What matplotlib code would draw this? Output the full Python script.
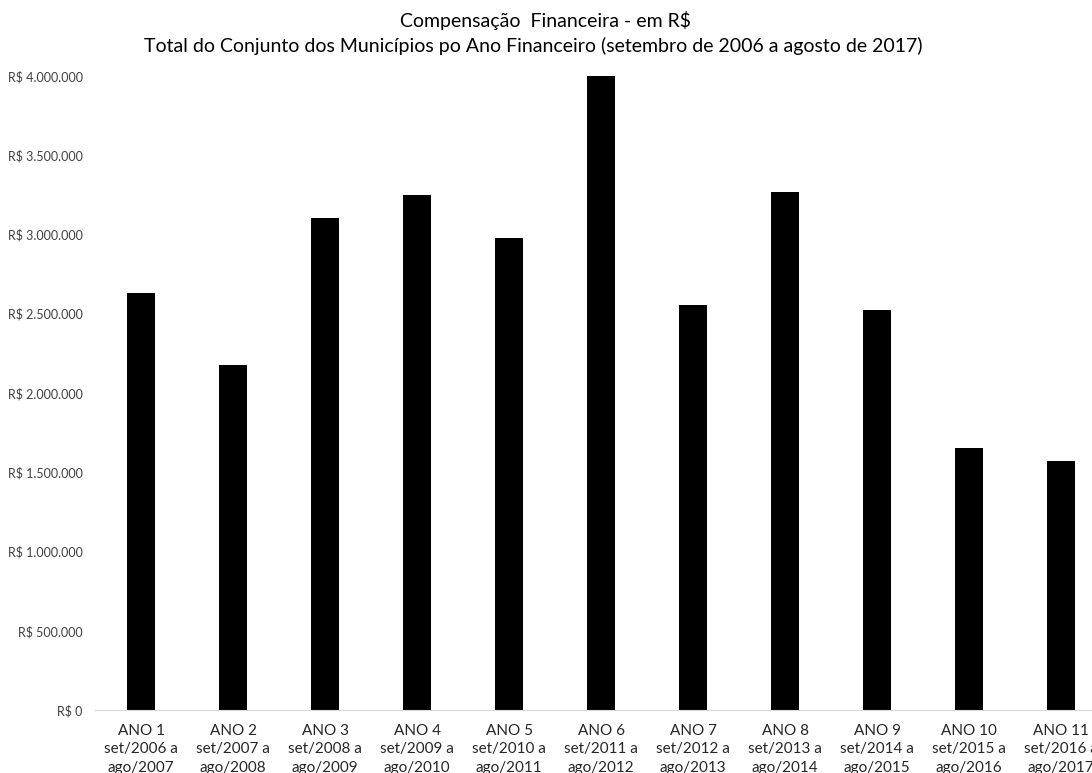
import numpy as np
import matplotlib
matplotlib.use("Agg")
import matplotlib.pyplot as plt
from matplotlib.ticker import FuncFormatter

plt.rcParams['font.family'] = ['Lato', 'DejaVu Sans']

anos = ['ANO 1', 'ANO 2', 'ANO 3', 'ANO 4', 'ANO 5', 'ANO 6',
        'ANO 7', 'ANO 8', 'ANO 9', 'ANO 10', 'ANO 11']
periodos = ['set/2006 a\nago/2007', 'set/2007 a\nago/2008', 'set/2008 a\nago/2009',
            'set/2009 a\nago/2010', 'set/2010 a\nago/2011', 'set/2011 a\nago/2012',
            'set/2012 a\nago/2013', 'set/2013 a\nago/2014', 'set/2014 a\nago/2015',
            'set/2015 a\nago/2016', 'set/2016 a\nago/2017']
valores = [2631000, 2177000, 3104000, 3249000, 2978000, 4000000,
           2555000, 3268000, 2524000, 1653000, 1571000]


def reais(v, pos):
    return 'R$ ' + f'{int(v):,}'.replace(',', '.')


fig = plt.figure(figsize=(10.92, 7.73), dpi=100)
# plot area runs a little past the right edge of the figure
ax = fig.add_axes([95 / 1092, 63 / 773, 1012 / 1092, 634 / 773])

x = np.arange(len(anos))
ax.bar(x, valores, width=0.315, color='black')

ax.set_xlim(-0.5, len(anos) - 0.5)
ax.set_ylim(0, 4000000)
ax.set_yticks(np.arange(0, 4000001, 500000))
ax.yaxis.set_major_formatter(FuncFormatter(reais))
ax.set_xticks(x)
ax.set_xticklabels([f'{a}\n{p}' for a, p in zip(anos, periodos)],
                   fontsize=11, color='#262626', linespacing=1.4)

for s in ['top', 'right', 'left']:
    ax.spines[s].set_visible(False)
ax.spines['bottom'].set_color('#d9d9d9')
ax.tick_params(axis='y', length=0, labelsize=9, labelcolor='#404040', pad=9)
ax.tick_params(axis='x', length=0, pad=10)

fig.text(545 / 1092, 1 - 20 / 773, 'Compensação  Financeira - em R$',
         ha='center', va='center', fontsize=14, color='#000000')
fig.text(533 / 1092, 1 - 46 / 773,
         'Total do Conjunto dos Municípios po Ano Financeiro (setembro de 2006 a agosto de 2017)',
         ha='center', va='center', fontsize=14, color='#000000')

fig.savefig('out.png', dpi=100)
